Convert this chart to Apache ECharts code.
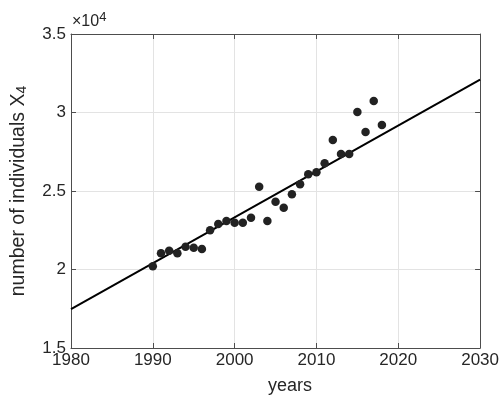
<!DOCTYPE html>
<html>
<head>
<meta charset="utf-8">
<script src="https://cdn.jsdelivr.net/npm/echarts@6/dist/echarts.min.js"></script>
<style>html,body{margin:0;padding:0;background:#fff}#c{width:502px;height:403px}</style>
</head>
<body>
<div id="c"></div>
<script>
const years = [1990,1991,1992,1993,1994,1995,1996,1997,1998,1999,2000,2001,2002,2003,2004,2005,2006,2007,2008,2009,2010,2011,2012,2013,2014,2015,2016,2017,2018];
const individuals = [20200,21030,21200,21030,21450,21390,21300,22500,22900,23090,22980,22980,23300,25270,23090,24320,23940,24790,25430,26060,26190,26760,28250,27360,27360,30030,28760,30730,29200];
const fitYears = [1980, 2030];
const fitValues = [17480, 32090];
const xTicks = [1980, 1990, 2000, 2010, 2020, 2030];
const yTicks = [15000, 20000, 25000, 30000, 35000];

const chart = echarts.init(document.getElementById('c'), null, {renderer: 'canvas'});
const font = 'Liberation Sans, Arial, Helvetica, sans-serif';
const axisCol = '#4d4d4d';
const gridCol = '#e3e3e3';
const baseX = {
  type: 'value', min: xTicks[0], max: xTicks[xTicks.length-1], interval: 10,
  axisLine: {show: true, onZero: false, lineStyle: {color: axisCol, width: 1}},
  axisTick: {show: true, inside: true, length: 5, lineStyle: {color: axisCol}},
  splitLine: {show: false}
};
const baseY = {
  type: 'value', min: yTicks[0], max: yTicks[yTicks.length-1], interval: 5000,
  axisLine: {show: true, onZero: false, lineStyle: {color: axisCol, width: 1}},
  axisTick: {show: true, inside: true, length: 5, lineStyle: {color: axisCol}},
  splitLine: {show: false}
};
chart.setOption({
  animation: false,
  grid: {left: 71, right: 20, top: 34, bottom: 55, containLabel: false},
  xAxis: [
    Object.assign({}, baseX, {position: 'bottom',
      axisLabel: {show: true, color: '#262626', fontSize: 17, fontFamily: font, margin: 4,
        formatter: v => String(v)},
      splitLine: {show: true, lineStyle: {color: gridCol, width: 1}}}),
    Object.assign({}, baseX, {position: 'top', axisLabel: {show: false}})
  ],
  yAxis: [
    Object.assign({}, baseY, {position: 'left',
      axisLabel: {show: true, color: '#262626', fontSize: 17, fontFamily: font, margin: 5,
        formatter: v => String(v / 10000)},
      splitLine: {show: true, lineStyle: {color: gridCol, width: 1}}}),
    Object.assign({}, baseY, {position: 'right', axisLabel: {show: false}})
  ],
  series: [
    {type: 'line', xAxisIndex: 0, yAxisIndex: 0, data: fitYears.map((x, i) => [x, fitValues[i]]),
     symbol: 'none', lineStyle: {color: '#000', width: 2}, z: 3},
    {type: 'scatter', xAxisIndex: 0, yAxisIndex: 0, data: years.map((x, i) => [x, individuals[i]]),
     symbol: 'circle', symbolSize: 8.5, itemStyle: {color: '#222222', opacity: 1}, z: 4}
  ],
  graphic: [
    {type: 'text', left: 72, top: 11, style: {
      rich: {a: {fontSize: 16, fontFamily: font, fill: '#262626'},
             b: {fontSize: 13, fontFamily: font, fill: '#262626', padding: [0, 0, 9, 0]}},
      text: '{a|×10}{b|4}'}},
    {type: 'text', x: 290, y: 386, style: {
      text: 'years', fontSize: 18, fontFamily: font, fill: '#262626', align: 'center', verticalAlign: 'middle'}},
    {type: 'text', x: 19, y: 191, rotation: Math.PI / 2, style: {
      rich: {a: {fontSize: 19.5, fontFamily: font, fill: '#262626'},
             b: {fontSize: 14, fontFamily: font, fill: '#262626', padding: [0, 0, -6, 0]}},
      text: '{a|number of individuals X}{b|4}', align: 'center', verticalAlign: 'middle'}}
  ]
});
</script>
</body>
</html>
